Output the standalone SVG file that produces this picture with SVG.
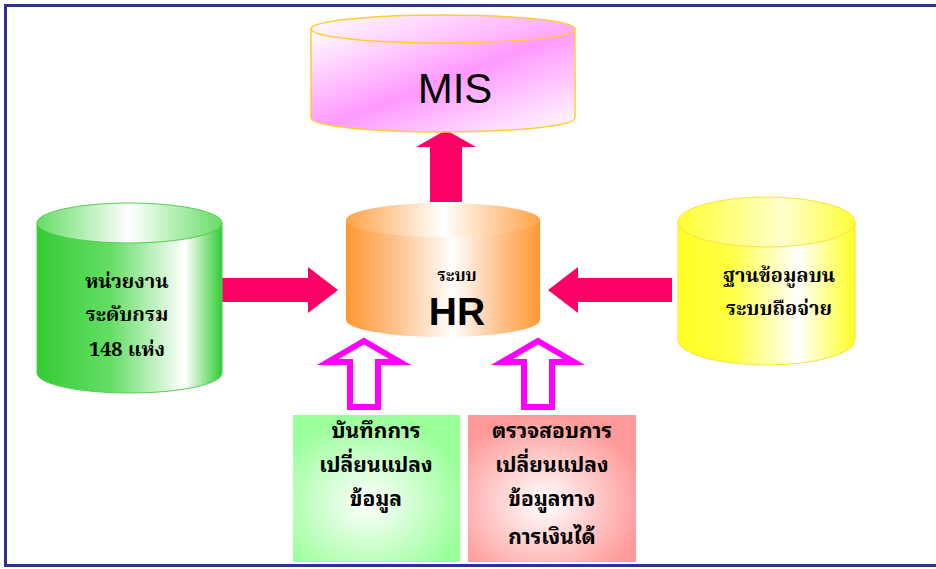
<svg xmlns="http://www.w3.org/2000/svg" width="936" height="569" viewBox="0 0 936 569">
<defs>
<linearGradient id="gMis" x1="0" y1="0" x2="1" y2="1">
<stop offset="0" stop-color="#ffffff"/><stop offset="0.5" stop-color="#ff99ff"/><stop offset="1" stop-color="#ffffff"/>
</linearGradient>
<linearGradient id="gMisTop" x1="0" y1="0" x2="1" y2="0.3">
<stop offset="0" stop-color="#ffffff"/><stop offset="1" stop-color="#ffaaff"/>
</linearGradient>
<linearGradient id="gHr" x1="0" y1="0" x2="1" y2="0">
<stop offset="0" stop-color="#ff9933"/><stop offset="0.25" stop-color="#ffc08a"/><stop offset="0.55" stop-color="#ffffff"/><stop offset="0.8" stop-color="#ffc08a"/><stop offset="1" stop-color="#ff9933"/>
</linearGradient>
<linearGradient id="gHrTop" x1="0" y1="0" x2="1" y2="0">
<stop offset="0" stop-color="#ffa347"/><stop offset="0.5" stop-color="#ffffff"/><stop offset="1" stop-color="#ffa347"/>
</linearGradient>
<linearGradient id="gGreen" x1="0" y1="0" x2="1" y2="0">
<stop offset="0" stop-color="#33cc33"/><stop offset="0.4" stop-color="#66dd66"/><stop offset="0.8" stop-color="#ffffff"/><stop offset="1" stop-color="#33cc33"/>
</linearGradient>
<linearGradient id="gGreenTop" x1="0" y1="0" x2="1" y2="0">
<stop offset="0" stop-color="#66dd66"/><stop offset="0.5" stop-color="#ffffff"/><stop offset="1" stop-color="#66dd66"/>
</linearGradient>
<linearGradient id="gYellow" x1="0" y1="0" x2="1" y2="0">
<stop offset="0" stop-color="#ffff22"/><stop offset="0.3" stop-color="#ffff44"/><stop offset="0.68" stop-color="#ffffff"/><stop offset="1" stop-color="#ffff22"/>
</linearGradient>
<linearGradient id="gYellowTop" x1="0" y1="0" x2="1" y2="0">
<stop offset="0" stop-color="#ffff33"/><stop offset="0.6" stop-color="#ffffcc"/><stop offset="1" stop-color="#ffff33"/>
</linearGradient>
<radialGradient id="gBoxG" cx="0.45" cy="0.6" r="0.6">
<stop offset="0" stop-color="#ffffff"/><stop offset="1" stop-color="#99ff99"/>
</radialGradient>
<radialGradient id="gBoxR" cx="0.45" cy="0.6" r="0.6">
<stop offset="0" stop-color="#ffffff"/><stop offset="1" stop-color="#ff9999"/>
</radialGradient>
<style>
.thai{font-family:"Noto Serif Thai","Norasi","Liberation Serif","Noto Sans Thai",serif;font-weight:bold;fill:#000;text-anchor:middle}
.thaib{font-family:"Noto Sans Thai Looped","Loma","Garuda","Noto Sans Thai","Liberation Sans",sans-serif;font-weight:bold;fill:#000;text-anchor:middle;font-size:21px}
.lat{font-family:"Liberation Sans",Arial,sans-serif;fill:#000;text-anchor:middle}
.red{fill:#ff0066}
.hollow{fill:#ffffff;stroke:#ff00ff;stroke-width:6;stroke-linejoin:miter}
</style>
</defs>
<rect x="0" y="0" width="936" height="569" fill="#ffffff"/>
<rect x="5.5" y="5.5" width="940" height="560" fill="none" stroke="#2e3192" stroke-width="3"/>

<g id="connectors">
<polygon class="red" points="446,130 476,147 462,147 462,202 430,202 430,147 416,147"/>
<polygon class="red" points="213,278 308,278 308,267 338,290 308,313 308,302 213,302"/>
<polygon class="red" points="548,290 578,267 578,278 672,278 672,302 578,302 578,313"/>
<polygon class="hollow" points="364,341 400,362 378,362 378,407 350,407 350,362 328,362"/>
<polygon class="hollow" points="538,341 574,362 552,362 552,407 524,407 524,362 502,362"/>
</g>

<g id="mis">
<path d="M311,29 V118 A132,14 0 0 0 575,118 V29 Z" fill="url(#gMis)" stroke="#ffcc33" stroke-width="1.5"/>
<ellipse cx="443" cy="29" rx="132" ry="14" fill="url(#gMisTop)" stroke="#ffcc33" stroke-width="1.5"/>
<text class="lat" x="455" y="103" font-size="42">MIS</text>
</g>

<g id="hr">
<path d="M346,220 V320 A97,17 0 0 0 540,320 V220 Z" fill="url(#gHr)"/>
<ellipse cx="443" cy="220" rx="97" ry="17" fill="url(#gHrTop)"/>
<text class="thai" x="457" y="281" font-size="17">ระบบ</text>
<text class="lat" x="457" y="325" font-size="39" font-weight="bold">HR</text>
</g>

<g id="dept">
<path d="M37,223 V373 A92.5,20 0 0 0 222,373 V223 Z" fill="url(#gGreen)" stroke="#55cc55" stroke-width="1"/>
<ellipse cx="129.5" cy="223" rx="92.5" ry="20" fill="url(#gGreenTop)" stroke="#55cc55" stroke-width="1"/>
<text class="thai" x="127" y="288" font-size="20">หน่วยงาน</text>
<text class="thai" x="127" y="321" font-size="20">ระดับกรม</text>
<text class="thai" x="127" y="356" font-size="20">148 แห่ง</text>
</g>

<g id="mobile">
<path d="M678,222 V340 A88.5,25 0 0 0 855,340 V222 Z" fill="url(#gYellow)" stroke="#ffdd44" stroke-width="1"/>
<ellipse cx="766.5" cy="222" rx="88.5" ry="25" fill="url(#gYellowTop)" stroke="#ffdd44" stroke-width="1"/>
<text class="thai" x="779" y="282" font-size="20">ฐานข้อมูลบน</text>
<text class="thai" x="779" y="315" font-size="20">ระบบถือจ่าย</text>
</g>

<g id="record">
<rect x="293" y="415" width="167" height="147" fill="url(#gBoxG)"/>
<text class="thaib" x="376" y="438">บันทึกการ</text>
<text class="thaib" x="376" y="472">เปลี่ยนแปลง</text>
<text class="thaib" x="376" y="506">ข้อมูล</text>
</g>

<g id="verify">
<rect x="468" y="415" width="168" height="147" fill="url(#gBoxR)"/>
<text class="thaib" x="552" y="438">ตรวจสอบการ</text>
<text class="thaib" x="552" y="472">เปลี่ยนแปลง</text>
<text class="thaib" x="552" y="506">ข้อมูลทาง</text>
<text class="thaib" x="552" y="544">การเงินได้</text>
</g>
</svg>
